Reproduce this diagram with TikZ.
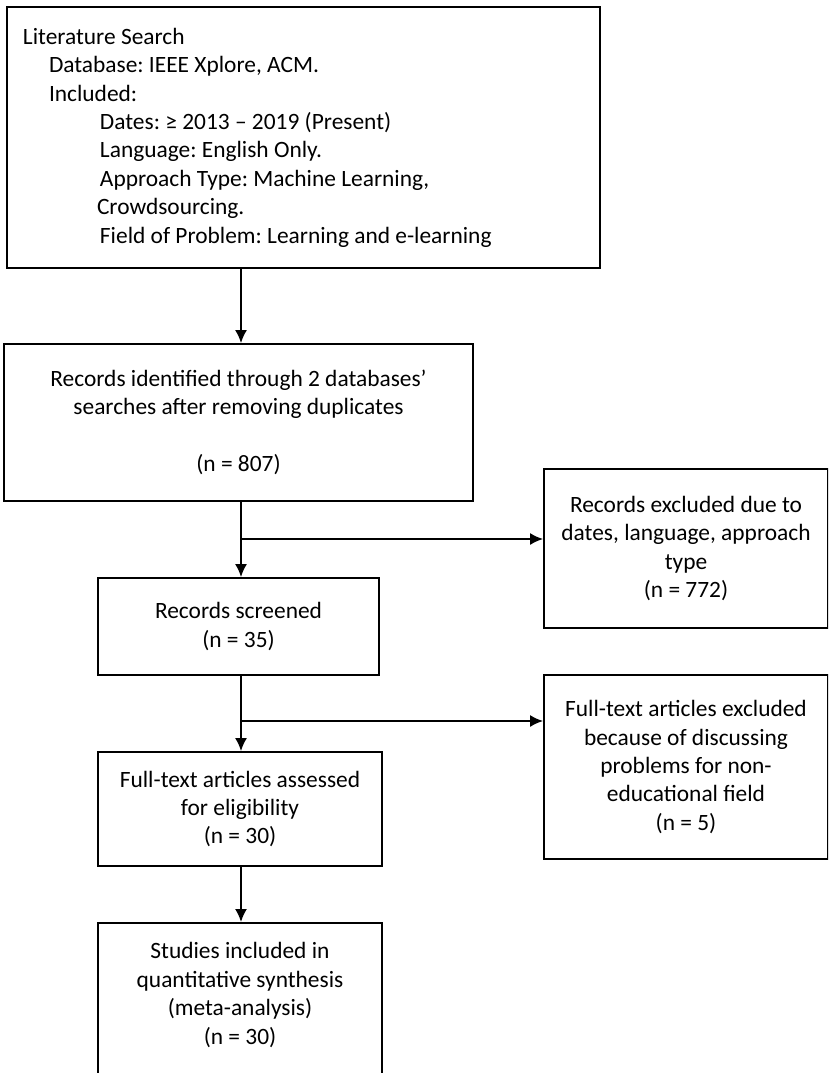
\documentclass[tikz,border=0pt]{standalone}
\usepackage{fontspec}
\setmainfont{Carlito}
\usetikzlibrary{arrows.meta,positioning,calc}
\frenchspacing

\begin{document}
\begin{tikzpicture}[x=1pt,y=-1pt,
    box/.style={draw, line width=1.8pt, inner sep=0pt, align=center,
      font=\fontsize{23.4}{28.4}\selectfont},
    arr/.style={line width=1.8pt, -{Latex[length=13pt,width=12pt]}}]
  \path[use as bounding box, clip] (0,0) rectangle (828,1073);
  % left column
  \node[box, minimum width=593pt, minimum height=261pt, text width=561pt, align=flush left] (lit) at (303.5,137.5) {Literature Search\\
    \hspace*{26pt}Database: IEEE Xplore, ACM.\\
    \hspace*{26pt}Included:\\
    \hspace*{77pt}Dates: ≥ 2013 – 2019 (Present)\\
    \hspace*{77pt}Language: English Only.\\
    \hspace*{77pt}Approach Type: Machine Learning,\\
    \hspace*{74pt}Crowdsourcing.\\
    \hspace*{77pt}Field of Problem: Learning and e-learning};
  \node[box, minimum width=469pt, minimum height=157pt] (ident) at (238.5,422.5) {Records identified through 2 databases’\\searches after removing duplicates\\[28.4pt](n = 807)};
  \node[box, minimum width=281pt, minimum height=97pt] (screen) at (238.5,626.5) {Records screened\\(n = 35)};
  \node[box, minimum width=284pt, minimum height=114pt] (assess) at (240,809) {Full-text articles assessed\\for eligibility\\(n = 30)};
  \node[box, minimum width=284pt, minimum height=200pt, anchor=north] (synth) at (240,922) {};
  \node[box, draw=none] (synthtxt) at (240,995) {Studies included in\\quantitative synthesis\\(meta-analysis)\\(n = 30)};
  % right column
  \node[box, minimum width=284pt, minimum height=159pt] (excl) at (686,548.5) {Records excluded due to\\dates, language, approach\\type\\(n = 772)};
  \node[box, minimum width=284pt, minimum height=184pt] (ftexcl) at (686,767) {Full-text articles excluded\\because of discussing\\problems for non-\\educational field\\(n = 5)};
  % arrows
  \coordinate (j1) at (241,539);
  \coordinate (j2) at (241,721);
  \draw[arr] (j1 |- lit.south) -- (j1 |- ident.north);
  \draw[arr] (j1 |- ident.south) -- (j1 |- screen.north);
  \draw[arr] (j1) -- (j1 -| excl.west);
  \draw[arr] (j2 |- screen.south) -- (j2 |- assess.north);
  \draw[arr] (j2) -- (j2 -| ftexcl.west);
  \draw[arr] (j2 |- assess.south) -- (j2 |- synth.north);
\end{tikzpicture}
\end{document}
